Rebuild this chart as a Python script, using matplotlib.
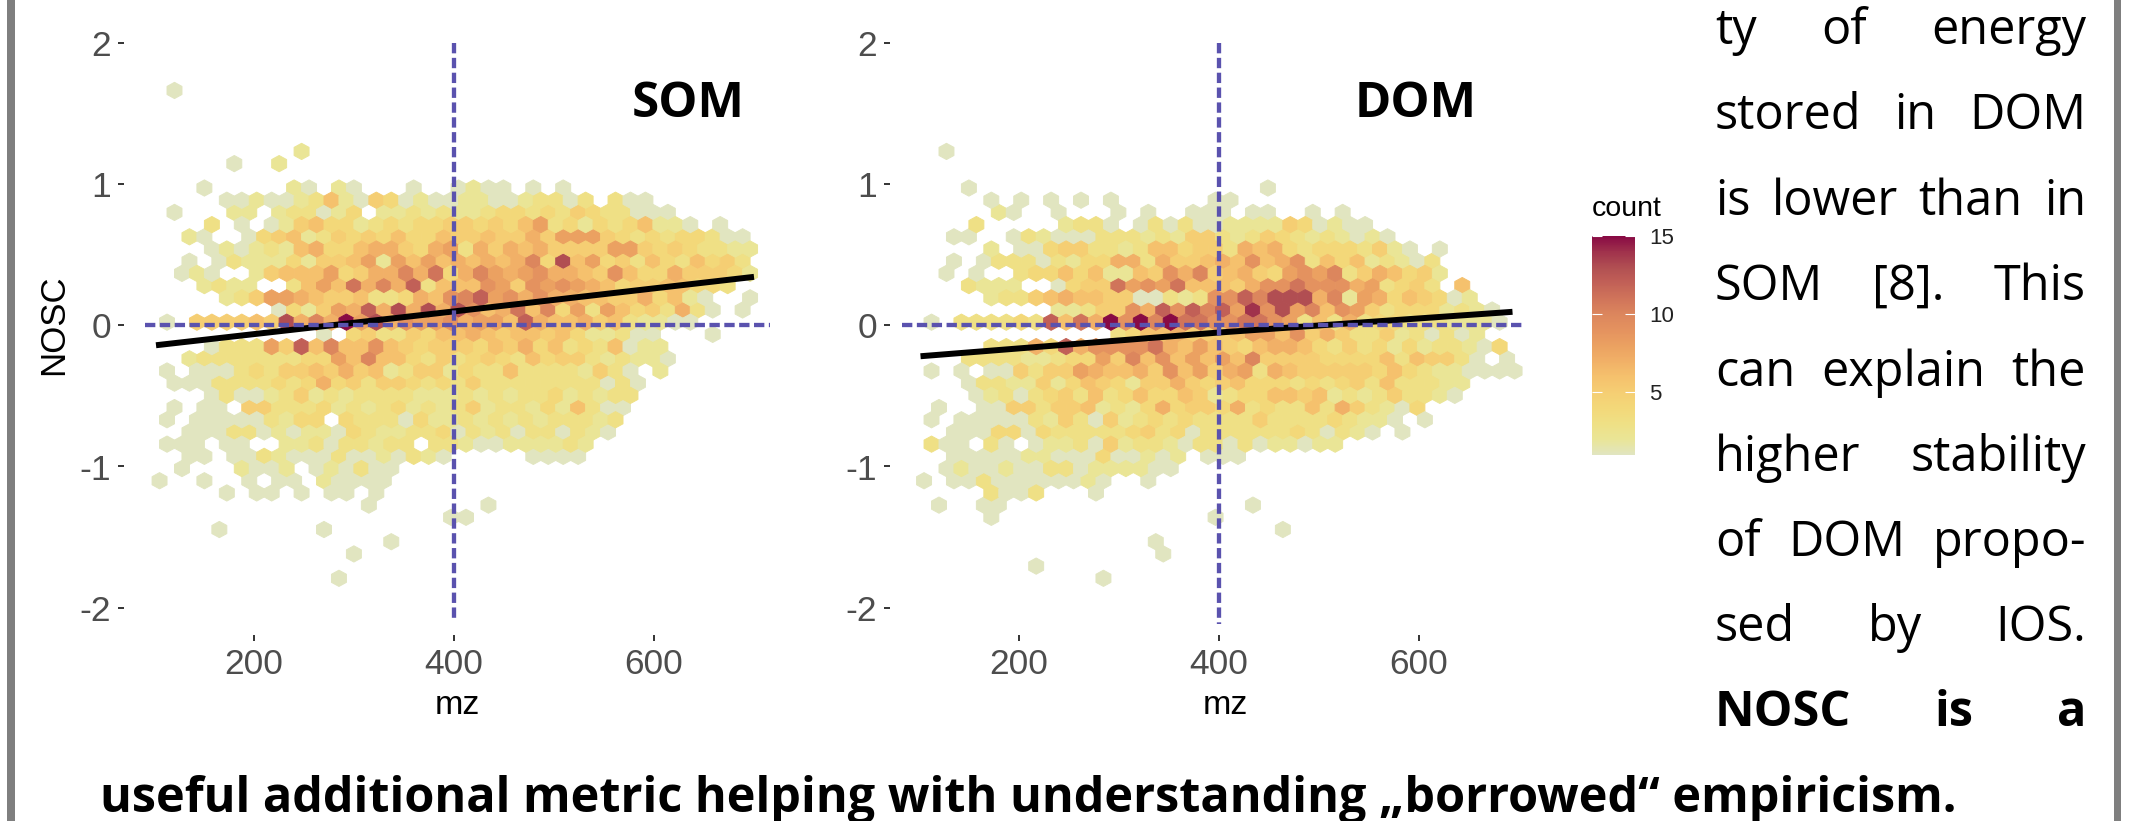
import numpy as np
import matplotlib
matplotlib.use("Agg")
import matplotlib.pyplot as plt
from matplotlib.colors import LinearSegmentedColormap, Normalize
from matplotlib.cm import ScalarMappable

W, H = 2140, 821

# hexagon lattice of the binning (mz units, NOSC units)
BIN_X0, BIN_DX = 120.5, 14.95
BIN_Y0, BIN_DY = 0.0235, 0.0865

# each entry: lattice row, first lattice column, counts per column ('.' = empty, a-f = 10-15)
SOM_ROW = [19, 14, 13, 11, 10, 9, 8, 7, 6, 5, 4, 3, 2, 1, 0, -1, -2, -3, -4, -5, -6, -7, -8, -9, -10,
           -11, -12, -13, -14, -15, -16, -17, -18, -19, -21]
SOM_START = [0, 8, 4, 2, 3, 0, 2, 1, 2, 1, 0, 2, 3, 7, -1, 10, 2, 1, -1, 0, 2, 0, -1, 1, -1,
             1, 0, -1, 3, 13, 18, 3, 14, 12, 11]
SOM_COUNTS = [
    "1",
    "2",
    "1 . . 2",
    "1 . . . . . 2 1 . 2 1 . . . 1 . . 1 2 1 1 . 1 . 1",
    "1 1 2 1 1 2 3 6 2 1 5 4 1 2 1 1 2 2 1 1 2 3 3 1 3 . 3 1 1",
    "1 . . . 2 2 . 2 3 3 1 2 4 . 2 2 3 2 3 2 2 3 4 4 3 4 3 5 4 3 3 1 1 1",
    "3 . 1 . 1 2 5 6 4 4 2 3 4 3 4 4 5 5 4 5 4 6 8 3 4 2 4 3 4 6 2 2 1 . 1",
    "2 1 . . 1 4 5 6 2 3 5 4 5 4 6 4 4 6 5 5 6 5 5 7 5 8 8 8 5 4 3 4 3 4 4 3 1 1",
    "1 2 1 2 3 2 6 7 4 4 6 7 7 5 4 7 8 3 7 5 7 6 7 5 5 5 5 8 8 5 4 5 4 3 3 2 2",
    "1 . 1 3 2 2 2 4 2 5 5 6 8 2 8 6 8 6 7 6 7 6 7 a 4 d 6 8 4 5 3 6 4 3 6 4 5 3",
    "1 2 1 . . 2 5 6 6 6 8 4 5 7 7 a 7 b 4 7 a 8 7 8 9 7 7 6 5 9 6 4 4 7 5 5 5 4 2",
    "2 3 2 2 . . 3 6 8 6 b 7 a 7 c 3 6 6 6 9 8 5 9 8 9 8 7 6 4 5 5 6 6 4 4 3",
    "2 3 5 8 8 7 6 5 5 6 3 3 4 7 6 9 a c 8 9 7 9 7 7 6 6 5 5 7 4 6 2 1 . . 1",
    "1 4 2 5 8 7 c 7 d 7 d 7 d 9 6 7 b 6 a 4 8 3 8 6 4 5 3 7 3 1 . 1",
    "1 . 5 5 5 5 6 5 d 7 a 7 f 8 d 7 9 8 8 9 7 8 8 6 c 7 6 6 7 5 6 3 2 2 1 1",
    "1 . 4 5 3 3 5 4 6 6 7 6 5 6 6 5 6 4 2 2 3 1 1 . . . 1",
    "1 3 3 3 8 5 c 6 a 6 6 9 6 5 4 5 5 5 4 6 5 7 4 6 3 4 3 6 1 2 2",
    "2 3 3 3 3 3 3 3 4 4 8 6 a 6 6 4 3 5 3 4 5 4 3 6 4 5 5 3 2 3 2 2 1",
    "1 . 1 1 1 3 4 3 5 5 6 5 7 5 6 2 3 5 5 2 4 3 3 6 3 3 3 3 2 5 3 1 . 2",
    "1 1 1 3 3 3 3 4 3 4 7 4 5 3 5 5 4 3 4 3 5 3 3 3 3 3 3 3 3 1 3 1",
    "1 3 1 1 2 3 5 2 3 2 3 3 3 3 2 2 2 3 2 3 2 3 3 4 2 3 2 3 3",
    "1 . 1 1 . 5 5 3 3 3 4 2 3 2 3 4 2 3 2 3 5 2 3 3 2 4 2 6 3 1 1",
    "1 . 1 1 1 1 1 3 2 4 4 . 4 3 3 3 1 4 2 2 3 2 3 2 3 2 3 3 3 2 3",
    "1 1 1 3 3 1 2 1 2 2 1 4 3 2 2 3 3 4 1 3 2 3 1 3 3 1 3 2 1",
    "1 1 1 . 1 1 . . 2 2 3 1 3 3 2 3 3 . 3 3 2 1 1 2 2 2 2 3 2",
    "1 1 . 1 1 3 2 1 1 1 3 1 1 2 1 3 2 1 . . . . . 1 1 1 1",
    "1 . . . 2 1 1 2 . 1 2 1 3 1 1",
    "1 . . 1 . . 1 . 1 1 . 2 1 1 1 1",
    "1 . 1 1 . 1 . 1 1 . 1",
    "1 . . . . . . . 1",
    "1 1",
    "1 . . . . . . 1",
    "1",
    "1",
    "1",
]

DOM_ROW = [14, 11, 11, 10, 9, 8, 7, 6, 5, 4, 3, 2, 1, 0, -1, -2, -3, -4, -5, -6, -7, -8, -9, -10,
           -11, -12, -13, -14, -15, -15, -16, -16, -17, -18, -19, -20, -21]
DOM_START = [0, 2, 22, 3, 4, 2, 1, 3, 1, 0, 2, 3, 8, -1, 12, 3, 2, -1, 2, 2, 0, -1, 1, -1,
             1, 0, -1, 3, 0, 21, 3, 18, 23, 14, 15, 6, 11]
DOM_COUNTS = [
    "1",
    "1",
    "1",
    "1 . 1 . 1 . 1 . 1 . . . . . . 1 1",
    "2 1 . . 1 . . . 1 . 1 . . 1 1 1 . 1 1 . . 1 . 1",
    "3 . . . . . 2 3 3 1 . 1 3 1 3 1 1 2 2 2 2 5 4 1 2 1 1",
    "1 1 . . 1 3 2 1 1 1 3 3 3 2 3 2 5 5 3 2 3 5 4 3 2 3 2 1 2 1",
    "2 . 1 1 4 5 5 3 3 2 3 6 6 4 5 5 3 7 6 7 4 3 4 4 4 3 5 2 1 . 1",
    "1 . 1 3 3 3 1 3 2 4 4 7 7 3 7 5 5 6 7 6 9 6 7 9 3 6 4 6 2 3 2 1 3",
    "1 . 1 . . 3 4 4 6 4 6 2 2 6 5 9 7 a 5 6 7 5 4 8 9 8 a 3 5 7 6 4 5 2",
    "3 2 2 2 . . 1 4 5 5 b 8 9 8 b 6 6 6 5 7 9 9 b 9 9 9 7 8 3 4 5 3 . 6",
    "2 3 3 5 6 7 6 6 5 5 1 1 3 2 3 9 9 c a d d d 7 a 2 8 7 4 6 5 4 1 2",
    "2 2 3 5 5 9 7 c 9 c a c 8 e 9 d 8 a 6 9 8 5 3 4 4 4 2 3 2 1",
    "1 . 3 3 3 3 4 3 c 6 b 7 f 9 f a f b b 9 9 b b 9 8 3 6 3 7 3 4 4 3 3 3 2 2 2 1",
    "3 4 6 6 7 5 5 5 6 8 8 6 9 5 7 5 3 3 5 2 3 1 3 1 2",
    "3 3 3 7 4 c 7 9 9 9 9 b 7 6 8 6 5 4 6 7 7 6 4 3 5 3 4 2 4 2 3 3 2 1 4",
    "3 3 3 3 2 2 3 4 4 8 5 a 6 9 6 8 6 8 6 a 5 5 5 5 4 4 4 4 6 3 6 5 5 3 1 . 1",
    "1 . 1 . 1 1 5 3 5 5 8 7 6 6 7 5 9 6 8 5 7 8 3 7 6 5 5 5 5 5 4 6 4 3 2 2 1 1 1 1",
    "1 3 3 2 2 5 2 4 6 5 4 2 5 5 7 5 4 5 6 4 4 4 3 4 3 4 5 3 6 3 3 3 2 2",
    "1 2 3 1 3 4 5 3 6 3 4 6 4 4 6 5 2 3 4 4 6 6 5 6 2 3 2 3 5 3 3 2 1",
    "1 . . 1 1 5 5 3 5 5 6 2 3 2 4 7 4 5 5 4 7 3 4 3 3 6 3 7 5 3 2 1 4",
    "1 . 1 1 1 1 1 3 2 5 3 1 5 2 3 4 3 4 3 3 3 3 5 3 3 3 3 4 3 2 2 1 . 1",
    "1 1 1 4 4 1 4 3 3 3 3 3 4 5 3 4 1 3 3 3 3 3 3 4 3 1 3 2 1 . 1",
    "3 1 1 . 3 1 . 1 2 2 3 1 5 2 3 3 2 1 3 3 1 3 1 2 2 1 2 2",
    "1 1 1 1 1 2 2 1 1 1 4 1 1 2 1 2 . 1 1 1",
    "1 2 1 1 2 1 1 3 3 1 2 2 2 2 1 1",
    "1 . 1 1 3 1 1 1 1 1 1 2 1 . . 1",
    "3 1 1 3 . . . 1",
    "1 . . 1 1",
    "1",
    "1",
    "1",
    "1",
    "1",
    "1",
    "1",
    "1",
]

# trend lines (mz, NOSC)
TREND_MZ = [102, 400, 700]
SOM_TREND = [-0.14, 0.10, 0.345]
DOM_MZ = [102, 400, 694]
DOM_TREND = [-0.218, -0.05, 0.097]

X_TICKS = [200, 400, 600]
Y_TICKS = [-2, -1, 0, 1, 2]
COUNT_TICKS = [5, 10, 15]
COUNT_COLORS = ["#E1E5C0", "#EAE596", "#EFE085", "#F3D879", "#F5CE73", "#F5C16D", "#F1B067", "#EBA161",
                "#E4925F", "#DC865D", "#D0745A", "#C26157", "#B14F52", "#A0324C", "#880A44"]

BODY_LINES = ["ty of energy", "stored in DOM", "is lower than in", "SOM [8]. This", "can explain the",
              "higher stability", "of DOM propo-", "sed by IOS."]
BOLD_LINE = "NOSC is a"
LAST_LINE = "useful additional metric helping with understanding „borrowed“ empiricism."

BLUE = "#5A52AE"
GREY = "#4D4D4D"
FONT = "Open Sans"
BODY_SIZE = 35

fig = plt.figure(figsize=(W / 100, H / 100), dpi=100, facecolor="white")


def px_axes(left, right, top, bottom):
    return fig.add_axes([left / W, 1 - bottom / H, (right - left) / W, (bottom - top) / H])


cmap = LinearSegmentedColormap.from_list("cnt", COUNT_COLORS, N=256)
norm = Normalize(1, 15)


def cells(rows, starts, counts):
    xs, ys, vals = [], [], []
    for k, start, text in zip(rows, starts, counts):
        for i, tok in enumerate(text.split()):
            if tok == ".":
                continue
            shift = 0.5 if k % 2 == 0 else 0.0
            xs.append(BIN_X0 + BIN_DX * (start + i + shift))
            ys.append(BIN_Y0 + BIN_DY * k)
            vals.append(int(tok, 16))
    return np.array(xs), np.array(ys), np.array(vals, float)


def panel(left, right, mz_offset, rows, starts, counts, tx, ty, label, lab_x, hx, vy, ylabel):
    ax = px_axes(left, right, 30, 635)
    x, y, v = cells(rows, starts, counts)
    nx, ny = 50, 30
    xmin = BIN_X0 - 3 * BIN_DX
    ymin = BIN_Y0 - 25 * BIN_DY
    ax.hexbin(x, y, C=v, gridsize=(nx, ny), reduce_C_function=np.sum, cmap=cmap, norm=norm,
              extent=(xmin, xmin + nx * BIN_DX, ymin, ymin + ny * 2 * BIN_DY), linewidths=0.7, edgecolors="face")
    ax.plot(tx, ty, color="black", lw=4.3, solid_capstyle="butt", zorder=3)
    ax.plot(hx, [0, 0], color=BLUE, lw=3.1, ls=(0, (2.4, 1.05)), zorder=4)
    ax.plot([400, 400], vy, color=BLUE, lw=3.1, ls=(0, (2.4, 1.05)), zorder=4)
    ax.set_xlim(left - mz_offset, right - mz_offset)
    ax.set_ylim((325.5 - 635) / 141, (325.5 - 30) / 141)
    ax.set_xticks(X_TICKS)
    ax.set_yticks(Y_TICKS)
    ax.set_yticklabels([str(t) for t in Y_TICKS])
    ax.tick_params(axis="both", colors=GREY, labelsize=25.5, length=4.6, width=1.4, color="#333333", pad=4.5)
    for t in ax.get_xticklabels() + ax.get_yticklabels():
        t.set_fontfamily("Liberation Sans")
    for s in ax.spines.values():
        s.set_visible(False)
    ax.patch.set_alpha(0)
    ax.set_xlabel("mz", fontsize=24.5, fontfamily="Liberation Sans", color="black", labelpad=7)
    if ylabel:
        fig.text(54 / W, 1 - 325 / H, ylabel, rotation=90, fontsize=25, fontfamily="Liberation Sans",
                 ha="center", va="center")
    fig.text(lab_x / W, 1 - 117 / H, label, fontsize=35.5, fontweight="bold", fontfamily=FONT, ha="center",
             va="baseline")
    return ax


panel(124, 790, 54, SOM_ROW, SOM_START, SOM_COUNTS, TREND_MZ, SOM_TREND, "SOM", 688, [91, 716], [2.0, -2.08], "NOSC")
panel(890, 1560, 818.5, DOM_ROW, DOM_START, DOM_COUNTS, DOM_MZ, DOM_TREND, "DOM", 1416, [83, 705.5], [2.0, -2.12], None)

# colour legend
cax = px_axes(1592, 1635, 236, 455)
cb = fig.colorbar(ScalarMappable(norm=norm, cmap=cmap), cax=cax)
cb.outline.set_visible(False)
cb.set_ticks(COUNT_TICKS)
cb.set_ticklabels([str(t) for t in COUNT_TICKS])
cax.tick_params(axis="y", direction="in", length=7.5, width=0.8, color="white", left=True, right=True,
                labelsize=16, pad=10, labelcolor="#222222")
for t in cax.get_yticklabels():
    t.set_fontfamily("Liberation Sans")
fig.text(1592 / W, 1 - 209 / H, "count", fontsize=20.5, fontfamily="Liberation Sans", ha="left", va="center")

# page borders
for x0, x1 in [(7, 15), (2114, 2121)]:
    fig.add_artist(plt.Rectangle((x0 / W, 0), (x1 - x0) / W, 1, transform=fig.transFigure, color="#7F7F7F", lw=0))

# justified text column
fig.canvas.draw()
renderer = fig.canvas.get_renderer()


def justified(line, x0, x1, base, weight):
    words = line.split()
    arts = [fig.text(0, 1 - base / H, w, fontsize=BODY_SIZE, fontfamily=FONT, fontweight=weight, va="baseline")
            for w in words]
    widths = [a.get_window_extent(renderer).width for a in arts]
    gap = (x1 - x0 - sum(widths)) / max(len(words) - 1, 1)
    x = x0
    for a, w in zip(arts, widths):
        a.set_x(x / W)
        x += w + gap


BASES = [44.5, 129, 215, 300, 386, 471, 556, 641]
for line, base in zip(BODY_LINES, BASES):
    justified(line, 1715, 2086, base, "normal")
justified(BOLD_LINE, 1715, 2086, 726, "bold")
fig.text(100 / W, 1 - 811.5 / H, LAST_LINE, fontsize=BODY_SIZE, fontfamily=FONT, fontweight="bold", va="baseline")

fig.savefig("out.png", dpi=100)
